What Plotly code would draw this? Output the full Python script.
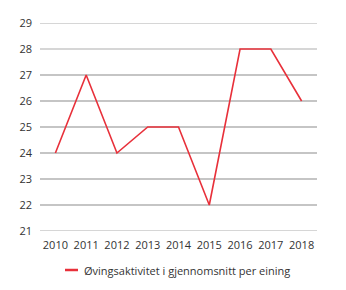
import plotly.graph_objects as go

years = ["2010", "2011", "2012", "2013", "2014", "2015", "2016", "2017", "2018"]
values = [24, 27, 24, 25, 25, 22, 28, 28, 26]
y_ticks = [21, 22, 23, 24, 25, 26, 27, 28, 29]
light_ticks = [21, 28, 29]
series_name = "Øvingsaktivitet i gjennomsnitt per eining"
line_color = "#e8303a"

fig = go.Figure()
fig.add_trace(go.Scatter(
    x=years, y=values, mode="lines", name=series_name,
    line=dict(color=line_color, width=1.6), showlegend=False,
))

for t in y_ticks:
    light = t in light_ticks
    fig.add_shape(type="line", xref="paper", yref="y", x0=0, x1=1, y0=t, y1=t,
                  line=dict(color="#c8c8c8" if light else "#8c8c8c",
                            width=1.6 if light else 1.1),
                  layer="below")

# custom legend (short line sample + label)
fig.add_shape(type="line", xref="paper", yref="paper",
              x0=(65 - 40) / 277, x1=(78 - 40) / 277,
              y0=-(270 - 231) / 208, y1=-(270 - 231) / 208,
              line=dict(color=line_color, width=2.5))
fig.add_annotation(xref="paper", yref="paper", x=(82 - 40) / 277,
                   y=-(270 - 231) / 208, xanchor="left", yanchor="middle",
                   text=series_name, showarrow=False,
                   font=dict(family="Open Sans", size=11, color="#333333"))

fig.update_layout(
    width=346, height=290,
    margin=dict(l=40, r=29, t=23, b=59),
    paper_bgcolor="white", plot_bgcolor="white",
    font=dict(family="Open Sans", size=11, color="#333333"),
    showlegend=False,
    xaxis=dict(type="category", range=[-0.5, 8.5], showgrid=False, zeroline=False,
               showline=False, ticks="", tickfont=dict(size=11), ticklabelstandoff=6),
    yaxis=dict(range=[21, 29], tickvals=y_ticks, showgrid=False, zeroline=False,
               showline=False, ticks="", ticklabelstandoff=7),
)

fig.write_html("out.html")
